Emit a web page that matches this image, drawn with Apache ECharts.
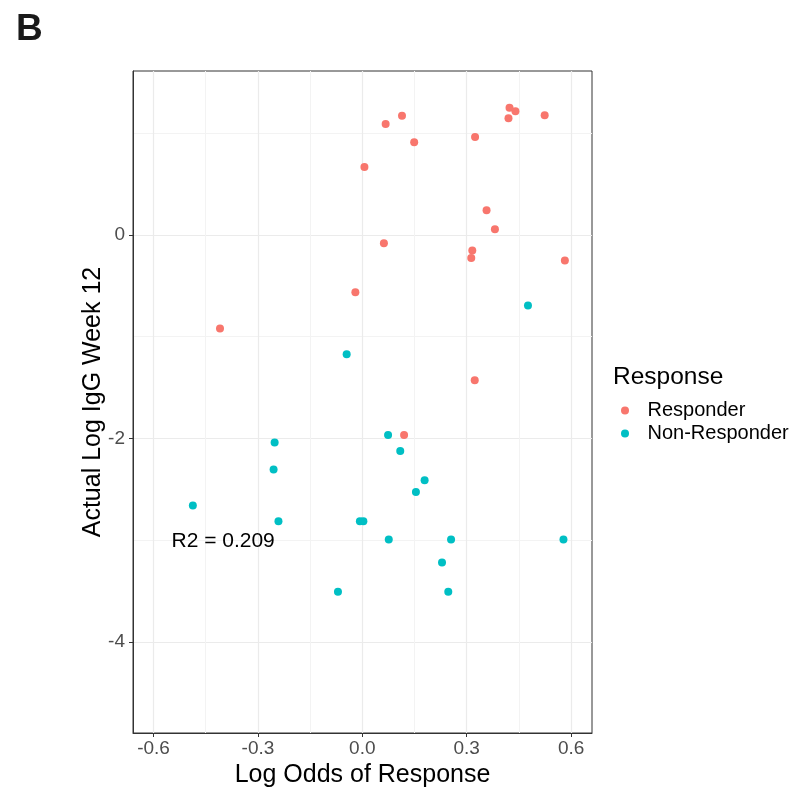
<!doctype html>
<html>
<head>
<meta charset="utf-8">
<title>Log Odds of Response vs Actual Log IgG Week 12</title>
<script src="https://cdn.jsdelivr.net/npm/echarts@6/dist/echarts.min.js"></script>
<style>
html,body{margin:0;padding:0;background:#fff;}
#chart{width:792px;height:794px;}
</style>
</head>
<body>
<div id="chart"></div>
<script type="text/javascript">
// Responder points (x = log odds, y = actual log IgG week 12)
var respX = [0.423, 0.440, 0.420, 0.524, 0.114, 0.067, 0.324, 0.149, 0.006, 0.357, 0.381, 0.062, 0.316, 0.313, 0.582, -0.020, -0.409, 0.323, 0.120];
var respY = [1.250, 1.215, 1.146, 1.176, 1.172, 1.090, 0.963, 0.910, 0.668, 0.242, 0.056, -0.082, -0.154, -0.226, -0.252, -0.563, -0.920, -1.428, -1.965];
// Non-Responder points
var nonX = [0.476, -0.045, 0.074, -0.252, 0.109, -0.255, 0.179, 0.154, -0.487, -0.241, -0.007, 0.003, 0.076, 0.255, 0.578, 0.229, -0.070, 0.247];
var nonY = [-0.694, -1.172, -1.965, -2.040, -2.122, -2.305, -2.410, -2.525, -2.659, -2.813, -2.813, -2.813, -2.993, -2.993, -2.993, -3.219, -3.507, -3.507];

var xTicks = [-0.6, -0.3, 0, 0.3, 0.6];
var xMinor = [-0.45, -0.15, 0.15, 0.45];
var yTicks = [-4, -2, 0];
var yMinor = [-3, -1, 1];
var xRange = [-0.659, 0.66];
var yRange = [-4.894, 1.611];

var seriesNames = ['Responder', 'Non-Responder'];
var r2Text = 'R2 = 0.209';
var r2Pos = [-0.40, -3.01];

function zip(xs, ys){
	var out = [];
	for(var i=0;i<xs.length;i++){
		out.push([xs[i], ys[i]]);
	}
	return out;
}

var FONT = '"Liberation Sans", Arial, sans-serif';
var gridCol = '#ebebeb';

var chart = echarts.init(document.getElementById('chart'), null, {renderer:'canvas'});
var option = {
	animation: false,
	backgroundColor: '#fff',
	textStyle: {fontFamily: FONT},
	title: [
		{
			text: 'B', left: 11, top: 6,
			textStyle: {fontSize: 37, fontWeight: 'bold', color: '#1a1a1a', fontFamily: FONT}
		},
		{
			text: 'Response', left: 608, top: 360,
			textStyle: {fontSize: 24.5, fontWeight: 'normal', color: '#000', fontFamily: FONT}
		}
	],
	color: ['#F8766D', '#00BFC4'],
	legend: {
		data: seriesNames,
		orient: 'vertical',
		left: 616, top: 395,
		icon: 'circle',
		itemWidth: 35, itemHeight: 8,
		itemGap: 2,
		textStyle: {fontSize: 20, color: '#000', fontFamily: FONT, lineHeight: 21}
	},
	grid: {
		left: 133, top: 71, width: 459, height: 662,
		show: true, borderColor: '#333', borderWidth: 1
	},
	xAxis: [
		{
			type: 'value', min: xRange[0], max: xRange[1],
			name: 'Log Odds of Response', nameLocation: 'middle', nameGap: 30,
			nameMoveOverlap: false,
			nameTextStyle: {fontSize: 25, color: '#000', fontFamily: FONT},
			axisLine: {show: true, onZero: false, lineStyle: {color: '#333'}},
			axisTick: {show: true, length: 4, customValues: xTicks, lineStyle: {color: '#333'}},
			axisLabel: {customValues: xTicks, fontSize: 19, color: '#4d4d4d', margin: 6,
				formatter: function(v){ return v.toFixed(1); }},
			splitLine: {show: true, lineStyle: {color: gridCol, width: 1.2}}
		},
		{
			type: 'value', min: xRange[0], max: xRange[1], position: 'bottom',
			axisLine: {show: false}, axisLabel: {show: false},
			axisTick: {show: false, customValues: xMinor},
			splitLine: {show: true, lineStyle: {color: '#f3f3f3', width: 1}}
		}
	],
	yAxis: [
		{
			type: 'value', min: yRange[0], max: yRange[1],
			name: 'Actual Log IgG Week 12', nameLocation: 'middle', nameGap: 27,
			nameMoveOverlap: false,
			nameTextStyle: {fontSize: 25, color: '#000', fontFamily: FONT},
			axisLine: {show: true, onZero: false, lineStyle: {color: '#333'}},
			axisTick: {show: true, length: 4, customValues: yTicks, lineStyle: {color: '#333'}},
			axisLabel: {customValues: yTicks, fontSize: 19, color: '#4d4d4d', margin: 8,
				formatter: function(v){ return String(v); }},
			splitLine: {show: true, lineStyle: {color: gridCol, width: 1.2}}
		},
		{
			type: 'value', min: yRange[0], max: yRange[1], position: 'left',
			axisLine: {show: false}, axisLabel: {show: false},
			axisTick: {show: false, customValues: yMinor},
			splitLine: {show: true, lineStyle: {color: '#f3f3f3', width: 1}}
		}
	],
	series: [
		{
			name: seriesNames[0], type: 'scatter', symbolSize: 8,
			itemStyle: {opacity: 1},
			data: zip(respX, respY),
			markPoint: {
				symbol: 'circle', symbolSize: 0,
				silent: true,
				data: [{coord: r2Pos, value: r2Text}],
				label: {show: true, position: 'inside', formatter: r2Text,
					fontSize: 21, color: '#000', fontFamily: FONT}
			}
		},
		{
			name: seriesNames[1], type: 'scatter', symbolSize: 8,
			itemStyle: {opacity: 1},
			data: zip(nonX, nonY)
		}
	]
};
chart.setOption(option);
</script>
</body>
</html>
